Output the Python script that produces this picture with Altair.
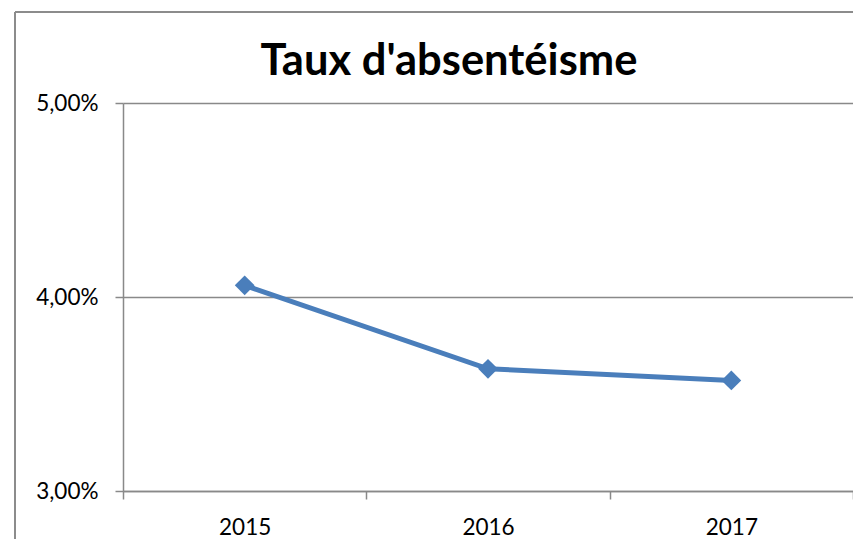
import altair as alt
import pandas as pd

years = ["2015", "2016", "2017"]
rates = [0.0406, 0.0363, 0.0357]
y_ticks = [0.03, 0.04, 0.05]
title_text = "Taux d'absentéisme"

df = pd.DataFrame({"year": years, "rate": rates})
one = pd.DataFrame({"k": [0]})

GRAY = "#898989"
BLUE = "#4A7EBB"
FONT = "Lato"

x_enc = alt.X(
    "year:O",
    bandPosition=0.5,
    scale=alt.Scale(type="band", paddingInner=0, paddingOuter=0),
    axis=alt.Axis(
        title=None, labelAngle=0, tickBand="extent", tickSize=8, tickColor=GRAY,
        tickWidth=1.5, domainColor=GRAY, domainWidth=1.5, labelPadding=17,
        labelFontSize=22.5, labelFont=FONT, labelColor="#000000", grid=False,
    ),
)
y_enc = alt.Y(
    "rate:Q",
    scale=alt.Scale(domain=[0.03, 0.05], nice=False, zero=False),
    axis=alt.Axis(
        title=None, values=y_ticks, grid=True, gridColor=GRAY, gridWidth=1.5,
        tickSize=8, tickColor=GRAY, tickWidth=1.5, domainColor=GRAY, domainWidth=1.5,
        labelPadding=17, labelFontSize=22.5, labelFont=FONT, labelColor="#000000",
        labelExpr="replace(format(datum.value, '.2%'), '.', ',')",
    ),
)

line = alt.Chart(df).mark_line(color=BLUE, strokeWidth=5).encode(x=x_enc, y=y_enc)
points = alt.Chart(df).mark_point(
    shape="diamond", filled=True, color=BLUE, size=390, opacity=1
).encode(x=x_enc, y=y_enc)

border_top = alt.Chart(one).mark_rule(color="#8c8c8c", strokeWidth=2).encode(
    x=alt.value(-108), x2=alt.value(760), y=alt.value(-91)
)
border_left = alt.Chart(one).mark_rule(color="#8c8c8c", strokeWidth=2).encode(
    x=alt.value(-108), y=alt.value(-91), y2=alt.value(480)
)
title = alt.Chart(one).mark_text(
    text=title_text, font=FONT, fontSize=43.5, fontWeight="bold", color="#000000",
    align="center", baseline="alphabetic",
).encode(x=alt.value(326), y=alt.value(-28))

chart = alt.layer(border_top, border_left, line, points, title).properties(
    width=730, height=388,
    autosize=alt.AutoSizeParams(type="none"),
    padding={"left": 115, "top": 95, "right": 0, "bottom": 48},
    background="white",
).configure_view(strokeWidth=0)

chart.save("out.html", embed_options={"renderer": "svg", "actions": False})
